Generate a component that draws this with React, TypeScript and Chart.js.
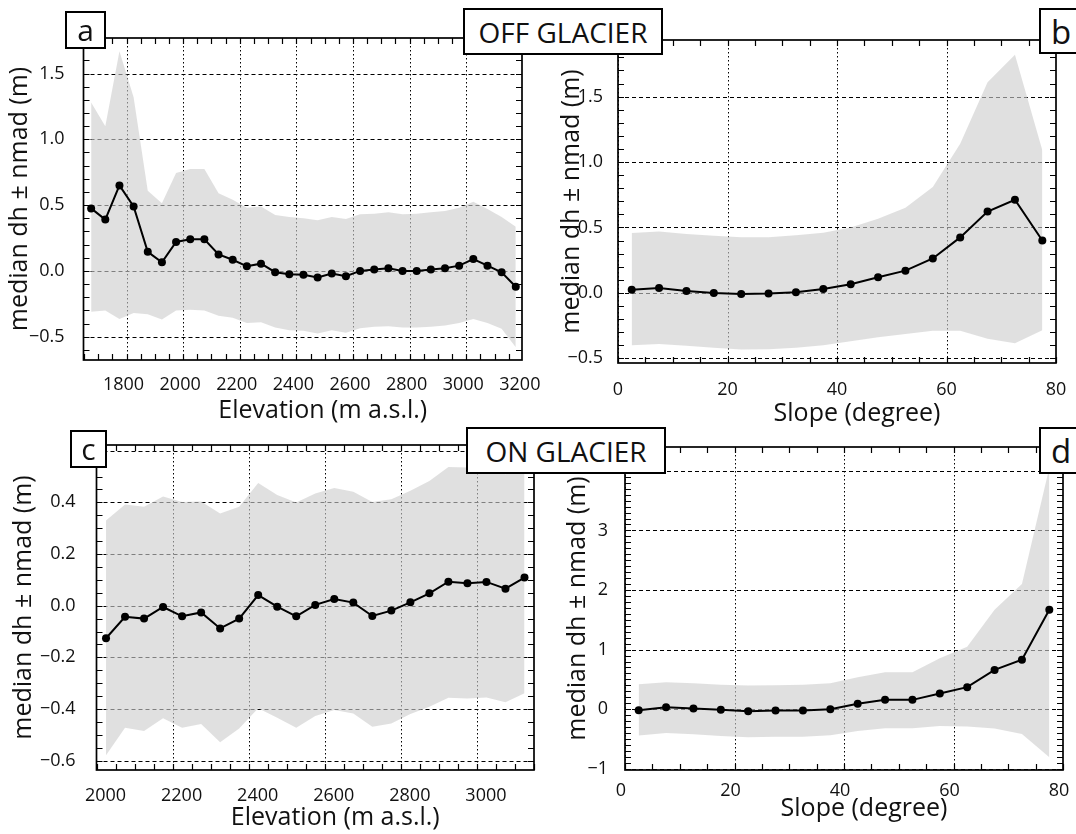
import React, { useEffect, useRef } from 'react';
import { Chart, registerables } from 'chart.js';

Chart.register(...registerables);

const FONT = "'Open Sans', 'Noto Sans', sans-serif";
const W = 1076;
const H = 834;
const BAND = 'rgba(205,205,205,0.62)';

// ---------- Panel a: OFF GLACIER, elevation ----------
const elevA = [1675, 1725, 1775, 1825, 1875, 1925, 1975, 2025, 2075, 2125, 2175, 2225, 2275, 2325, 2375, 2425, 2475, 2525, 2575, 2625, 2675, 2725, 2775, 2825, 2875, 2925, 2975, 3025, 3075, 3125, 3175];
const medA = [0.475, 0.39, 0.65, 0.49, 0.145, 0.065, 0.22, 0.24, 0.24, 0.125, 0.085, 0.035, 0.055, -0.01, -0.025, -0.03, -0.05, -0.02, -0.04, 0.0, 0.01, 0.02, 0.0, 0.0, 0.01, 0.02, 0.04, 0.09, 0.04, -0.01, -0.12];
const upA = [1.28, 1.1, 1.67, 1.32, 0.61, 0.515, 0.745, 0.775, 0.775, 0.59, 0.54, 0.48, 0.49, 0.425, 0.41, 0.4, 0.385, 0.41, 0.395, 0.43, 0.435, 0.445, 0.43, 0.435, 0.445, 0.455, 0.48, 0.525, 0.47, 0.41, 0.335];
const loA = [-0.31, -0.3, -0.365, -0.32, -0.33, -0.37, -0.3, -0.295, -0.3, -0.34, -0.355, -0.395, -0.39, -0.43, -0.45, -0.455, -0.475, -0.45, -0.47, -0.435, -0.425, -0.42, -0.43, -0.43, -0.425, -0.415, -0.395, -0.365, -0.395, -0.44, -0.58];
const xTicksA = [1800, 2000, 2200, 2400, 2600, 2800, 3000, 3200];
const yTicksA = [-0.5, 0, 0.5, 1.0, 1.5];

// ---------- Panel b: OFF GLACIER, slope ----------
const slopeB = [2.5, 7.5, 12.5, 17.5, 22.5, 27.5, 32.5, 37.5, 42.5, 47.5, 52.5, 57.5, 62.5, 67.5, 72.5, 77.5];
const medB = [0.023, 0.038, 0.015, 0.0, -0.008, -0.005, 0.005, 0.03, 0.066, 0.12, 0.17, 0.263, 0.424, 0.622, 0.712, 0.4];
const upB = [0.457, 0.47, 0.45, 0.436, 0.426, 0.426, 0.44, 0.46, 0.5, 0.566, 0.65, 0.81, 1.14, 1.61, 1.82, 1.09];
const loB = [-0.4, -0.39, -0.405, -0.42, -0.432, -0.43, -0.42, -0.4, -0.37, -0.34, -0.315, -0.29, -0.29, -0.35, -0.385, -0.285];
const xTicksB = [0, 20, 40, 60, 80];
const yTicksB = [-0.5, 0, 0.5, 1.0, 1.5];

// ---------- Panel c: ON GLACIER, elevation ----------
const elevC = [2025, 2075, 2125, 2175, 2225, 2275, 2325, 2375, 2425, 2475, 2525, 2575, 2625, 2675, 2725, 2775, 2825, 2875, 2925, 2975, 3025, 3075, 3125];
const medC = [-0.126, -0.043, -0.05, -0.005, -0.041, -0.026, -0.088, -0.05, 0.041, -0.004, -0.041, 0.003, 0.026, 0.012, -0.04, -0.019, 0.013, 0.048, 0.093, 0.087, 0.092, 0.066, 0.109];
const upC = [0.33, 0.392, 0.383, 0.423, 0.401, 0.403, 0.357, 0.383, 0.475, 0.428, 0.399, 0.434, 0.456, 0.441, 0.401, 0.412, 0.445, 0.483, 0.537, 0.535, 0.528, 0.509, 0.554];
const loC = [-0.579, -0.472, -0.485, -0.436, -0.472, -0.458, -0.529, -0.475, -0.397, -0.434, -0.472, -0.427, -0.404, -0.417, -0.469, -0.456, -0.419, -0.391, -0.356, -0.359, -0.355, -0.374, -0.339];
const xTicksC = [2000, 2200, 2400, 2600, 2800, 3000];
const xGridC = [2200, 2400, 2600, 2800, 3000];
const yTicksC = [-0.6, -0.4, -0.2, 0, 0.2, 0.4];
const yGridC = [-0.6, -0.4, -0.2, 0, 0.2, 0.4, 0.6];

// ---------- Panel d: ON GLACIER, slope ----------
const slopeD = [2.5, 7.5, 12.5, 17.5, 22.5, 27.5, 32.5, 37.5, 42.5, 47.5, 52.5, 57.5, 62.5, 67.5, 72.5, 77.5];
const medD = [-0.017, 0.034, 0.011, -0.011, -0.034, -0.022, -0.022, 0.0, 0.09, 0.157, 0.157, 0.263, 0.37, 0.66, 0.83, 1.67];
const upD = [0.42, 0.454, 0.437, 0.41, 0.398, 0.403, 0.41, 0.437, 0.538, 0.62, 0.62, 0.857, 1.05, 1.67, 2.1, 4.05];
const loD = [-0.443, -0.4, -0.42, -0.448, -0.47, -0.46, -0.46, -0.437, -0.364, -0.32, -0.32, -0.28, -0.29, -0.325, -0.415, -0.807];
const xTicksD = [0, 20, 40, 60, 80];
const yTicksD = [-1, 0, 1, 2, 3];
const yGridD = [-1, 0, 1, 2, 3, 4];

const Y_TITLE = 'median dh \u00b1 nmad (m)';

const panels = [
  {
    x: elevA, med: medA, up: upA, lo: loA,
    xTicks: xTicksA, xGrid: xTicksA, yTicks: yTicksA, yGrid: yTicksA,
    xMin: 1648, xMax: 3197, yMin: -0.677, yMax: 1.77, xMinor: 50, yMinor: 0.1, yDec: 1,
    area: { l: 83.5, t: 38, r: 522, b: 360 },
    xTitle: 'Elevation (m a.s.l.)', yTitleX: 20, yPad: 11, xPad: 6, xLabelOffset: -3, xTitleBase: 418,
  },
  {
    x: slopeB, med: medB, up: upB, lo: loB,
    xTicks: xTicksB, xGrid: xTicksB, yTicks: yTicksB, yGrid: yTicksB,
    xMin: 0, xMax: 80, yMin: -0.536, yMax: 1.933, xMinor: 5, yMinor: 0.1, yDec: 1,
    area: { l: 618, t: 40, r: 1056, b: 363 },
    xTitle: 'Slope (degree)', yTitleX: 572, yPad: 7, xPad: 8, xLabelOffset: 0, xTitleBase: 421,
  },
  {
    x: elevC, med: medC, up: upC, lo: loC,
    xTicks: xTicksC, xGrid: xGridC, yTicks: yTicksC, yGrid: yGridC,
    xMin: 2000, xMax: 3150, yMin: -0.636, yMax: 0.622, xMinor: 50, yMinor: 0.05, yDec: 1,
    area: { l: 96.5, t: 445, r: 534, b: 770 },
    xTitle: 'Elevation (m a.s.l.)', yTitleX: 24, yPad: 13, xPad: 7, xLabelOffset: 9, xTitleBase: 825,
  },
  {
    x: slopeD, med: medD, up: upD, lo: loD,
    xTicks: xTicksD, xGrid: xTicksD, yTicks: yTicksD, yGrid: yGridD,
    xMin: 0, xMax: 80, yMin: -1.02, yMax: 4.4, xMinor: 5, yMinor: 0.1, yDec: 0,
    area: { l: 625, t: 447, r: 1063, b: 770 },
    xTitle: 'Slope (degree)', yTitleX: 578, yPad: 9, xPad: 2, xLabelOffset: -4, xTitleBase: 816,
  },
];

const boxes = [
  { text: 'a', left: 65, top: 11, w: 41, h: 38, size: 30 },
  { text: 'OFF GLACIER', left: 463, top: 8, w: 200, h: 47, size: 28 },
  { text: 'b', left: 1039, top: 8, w: 44, h: 46, size: 33 },
  { text: 'c', left: 70, top: 430, w: 37, h: 38, size: 30 },
  { text: 'ON GLACIER', left: 466, top: 427, w: 200, h: 47, size: 28 },
  { text: 'd', left: 1039, top: 427, w: 44, h: 47, size: 33 },
];

const fmt = (v: number, dec: number) => {
  const s = Math.abs(v).toFixed(dec);
  return (v < -1e-9 ? '\u2212' : '') + s;
};

const YW = 60;
const XH = 40;

const framePlugin = {
  id: 'frame',
  beforeDatasetsDraw(chart: any, _a: any, o: any) {
    const { ctx, chartArea: ca } = chart;
    const xs = chart.scales.x;
    const ys = chart.scales.y;
    ctx.save();
    ctx.beginPath();
    ctx.rect(ca.left, ca.top, ca.right - ca.left, ca.bottom - ca.top);
    ctx.clip();
    ctx.strokeStyle = '#000';
    ctx.lineWidth = 1;
    ctx.setLineDash([1.5, 2.5]);
    o.xGrid.forEach((v: number) => {
      const p = Math.round(xs.getPixelForValue(v)) + 0.5;
      ctx.beginPath();
      ctx.moveTo(p, ca.top);
      ctx.lineTo(p, ca.bottom);
      ctx.stroke();
    });
    ctx.setLineDash([4, 3]);
    o.yGrid.forEach((v: number) => {
      const p = Math.round(ys.getPixelForValue(v)) + 0.5;
      ctx.beginPath();
      ctx.moveTo(ca.left, p);
      ctx.lineTo(ca.right, p);
      ctx.stroke();
    });
    ctx.restore();
  },
  afterDraw(chart: any, _a: any, o: any) {
    const { ctx, chartArea: ca } = chart;
    const xs = chart.scales.x;
    const ys = chart.scales.y;
    const tl = 6;
    ctx.save();
    ctx.strokeStyle = '#000';
    ctx.lineWidth = 1.2;
    ctx.setLineDash([]);
    ctx.beginPath();
    for (let k = Math.ceil(xs.min / o.xMinor - 1e-6); k * o.xMinor <= xs.max + 1e-6; k++) {
      const p = Math.round(xs.getPixelForValue(k * o.xMinor)) + 0.5;
      ctx.moveTo(p, ca.bottom);
      ctx.lineTo(p, ca.bottom - tl);
      ctx.moveTo(p, ca.top);
      ctx.lineTo(p, ca.top + tl);
    }
    for (let k = Math.ceil(ys.min / o.yMinor - 1e-6); k * o.yMinor <= ys.max + 1e-6; k++) {
      const p = Math.round(ys.getPixelForValue(k * o.yMinor)) + 0.5;
      ctx.moveTo(ca.left, p);
      ctx.lineTo(ca.left + tl, p);
      ctx.moveTo(ca.right, p);
      ctx.lineTo(ca.right - tl, p);
    }
    ctx.stroke();
    ctx.lineWidth = 1.7;
    ctx.strokeRect(ca.left, ca.top, ca.right - ca.left, ca.bottom - ca.top);
    ctx.fillStyle = '#111';
    ctx.font = `25px ${FONT}`;
    ctx.textAlign = 'center';
    ctx.textBaseline = 'alphabetic';
    ctx.fillText(o.xTitle, (ca.left + ca.right) / 2 + 20, o.xTitleBase);
    ctx.translate(o.yTitleX, (ca.top + ca.bottom) / 2);
    ctx.rotate(-Math.PI / 2);
    ctx.textBaseline = 'middle';
    ctx.fillText(o.yTitle, 0, 0);
    ctx.restore();
  },
};

function makeConfig(p: any): any {
  const pts = (ys: number[]) => p.x.map((v: number, i: number) => ({ x: v, y: ys[i] }));
  return {
    type: 'line',
    data: {
      datasets: [
        {
          label: 'median dh',
          data: pts(p.med),
          borderColor: '#000',
          borderWidth: 2,
          pointRadius: 4,
          pointBackgroundColor: '#000',
          pointBorderWidth: 0,
          fill: false,
          tension: 0,
        },
        {
          label: 'upper',
          data: pts(p.up),
          borderColor: 'rgba(0,0,0,0)',
          borderWidth: 0,
          pointRadius: 0,
          backgroundColor: BAND,
          fill: '+1',
          tension: 0,
        },
        {
          label: 'lower',
          data: pts(p.lo),
          borderColor: 'rgba(0,0,0,0)',
          borderWidth: 0,
          pointRadius: 0,
          fill: false,
          tension: 0,
        },
      ],
    },
    plugins: [framePlugin],
    options: {
      animation: false,
      responsive: false,
      devicePixelRatio: 1,
      events: [],
      layout: {
        padding: {
          left: p.area.l - YW,
          top: p.area.t,
          right: W - p.area.r,
          bottom: H - p.area.b - XH,
        },
      },
      plugins: {
        legend: { display: false },
        tooltip: { enabled: false },
        frame: {
          xGrid: p.xGrid,
          yGrid: p.yGrid,
          xMinor: p.xMinor,
          yMinor: p.yMinor,
          xTitle: p.xTitle,
          yTitle: Y_TITLE,
          yTitleX: p.yTitleX,
          xTitleBase: p.xTitleBase,
        },
      },
      scales: {
        x: {
          type: 'linear',
          min: p.xMin,
          max: p.xMax,
          grid: { display: false },
          border: { display: false },
          afterBuildTicks: (s: any) => {
            s.ticks = p.xTicks.map((v: number) => ({ value: v }));
          },
          afterFit: (s: any) => {
            s.height = XH;
          },
          ticks: {
            autoSkip: false,
            maxRotation: 0,
            padding: p.xPad,
            labelOffset: p.xLabelOffset,
            color: '#111',
            font: { family: FONT, size: 18 },
            callback: (v: any) => fmt(Number(v), 0),
          },
        },
        y: {
          type: 'linear',
          min: p.yMin,
          max: p.yMax,
          grid: { display: false },
          border: { display: false },
          afterBuildTicks: (s: any) => {
            s.ticks = p.yTicks.map((v: number) => ({ value: v }));
          },
          afterFit: (s: any) => {
            s.width = YW;
          },
          ticks: {
            autoSkip: false,
            padding: p.yPad,
            color: '#111',
            font: { family: FONT, size: 18 },
            callback: (v: any) => fmt(Number(v), p.yDec),
          },
        },
      },
    },
  };
}

export default function App() {
  const refs = useRef<(HTMLCanvasElement | null)[]>([]);

  useEffect(() => {
    Chart.defaults.font.family = FONT;
    Chart.defaults.color = '#111';
    const charts: Chart[] = [];
    panels.forEach((p, i) => {
      const el = refs.current[i];
      if (el) charts.push(new Chart(el, makeConfig(p)));
    });
    let alive = true;
    const fonts: any = (document as any).fonts;
    if (fonts && fonts.ready) {
      fonts.ready.then(() => {
        if (alive) charts.forEach((c) => c.update());
      });
    }
    return () => {
      alive = false;
      charts.forEach((c) => c.destroy());
    };
  }, []);

  return (
    <div
      style={{
        position: 'fixed',
        left: 0,
        top: 0,
        width: W,
        height: H,
        background: '#fff',
        overflow: 'hidden',
      }}
    >
      {panels.map((_, i) => (
        <canvas
          key={i}
          ref={(el) => {
            refs.current[i] = el;
          }}
          width={W}
          height={H}
          style={{ position: 'absolute', left: 0, top: 0, width: W, height: H }}
        />
      ))}
      {boxes.map((b, i) => (
        <div
          key={'box' + i}
          style={{
            position: 'absolute',
            left: b.left,
            top: b.top,
            width: b.w,
            height: b.h,
            boxSizing: 'border-box',
            border: '2px solid #000',
            background: '#fff',
            display: 'flex',
            alignItems: 'center',
            justifyContent: 'center',
            fontFamily: FONT,
            fontSize: b.size,
            lineHeight: 1,
            color: '#111',
            zIndex: 5,
            whiteSpace: 'nowrap',
          }}
        >
          {b.text}
        </div>
      ))}
    </div>
  );
}
